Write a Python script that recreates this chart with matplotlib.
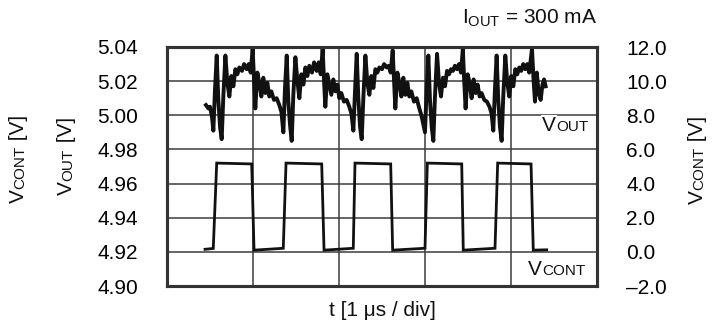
import matplotlib
matplotlib.use("Agg")
import matplotlib.pyplot as plt
from matplotlib.font_manager import FontProperties
from matplotlib.ticker import FuncFormatter, MultipleLocator
from matplotlib.transforms import IdentityTransform

plt.rcParams["font.family"] = ["Liberation Sans", "DejaVu Sans"]

# V_OUT trace (left axis, V) against time (us)
t_out = [
    0.453, 0.481, 0.500, 0.523,
    # period 1
    0.539, 0.558, 0.578, 0.597, 0.617, 0.636, 0.655, 0.679, 0.702, 0.725,
    0.748, 0.772, 0.795, 0.818, 0.841, 0.872, 0.896, 0.927, 0.950, 0.973,
    0.996, 1.012, 1.027, 1.051, 1.074, 1.097, 1.120, 1.144, 1.167, 1.190,
    1.213, 1.244, 1.275, 1.306, 1.330,
    # period 2
    1.353, 1.372, 1.392, 1.411, 1.431, 1.450, 1.469, 1.493, 1.516, 1.539,
    1.562, 1.586, 1.609, 1.632, 1.655, 1.686, 1.710, 1.741, 1.764, 1.787,
    1.810, 1.826, 1.841, 1.865, 1.888, 1.911, 1.934, 1.958, 1.981, 2.004,
    2.027, 2.058, 2.089, 2.120, 2.144,
    # period 3
    2.167, 2.186, 2.206, 2.225, 2.245, 2.264, 2.283, 2.307, 2.330, 2.353,
    2.376, 2.400, 2.423, 2.446, 2.469, 2.500, 2.524, 2.555, 2.578, 2.601,
    2.624, 2.640, 2.655, 2.679, 2.702, 2.725, 2.748, 2.772, 2.795, 2.818,
    2.841, 2.872, 2.903, 2.934, 2.958,
    # period 4
    3.000, 3.019, 3.039, 3.058, 3.078, 3.097, 3.116, 3.140, 3.163, 3.186,
    3.209, 3.233, 3.256, 3.279, 3.302, 3.325, 3.348, 3.372, 3.395, 3.418,
    3.440, 3.456, 3.472, 3.496, 3.519, 3.542, 3.565, 3.589, 3.612, 3.635,
    3.658, 3.689, 3.720, 3.750, 3.774,
    # period 5
    3.794, 3.813, 3.833, 3.852, 3.872, 3.891, 3.910, 3.934, 3.957, 3.980,
    4.003, 4.027, 4.050, 4.073, 4.096, 4.119, 4.142, 4.166, 4.189, 4.212,
    4.244, 4.262, 4.279, 4.300, 4.322, 4.345, 4.366, 4.384, 4.403,
]
v_out = [
    5.006, 5.004, 5.005, 4.999,
    4.991, 5.015, 5.035, 5.009, 4.993, 4.986, 5.011, 5.035, 5.019, 5.011,
    5.023, 5.017, 5.027, 5.024, 5.028, 5.026, 5.030, 5.027, 5.030, 5.025,
    5.039, 5.021, 5.004, 5.025, 5.019, 5.011, 5.022, 5.013, 5.019, 5.011,
    5.014, 5.009, 5.010, 5.006, 5.002,
    4.990, 5.016, 5.035, 5.008, 4.994, 4.985, 5.012, 5.034, 5.020, 5.010,
    5.024, 5.018, 5.028, 5.023, 5.029, 5.025, 5.031, 5.026, 5.031, 5.024,
    5.039, 5.020, 5.005, 5.024, 5.018, 5.012, 5.021, 5.014, 5.018, 5.010,
    5.013, 5.008, 5.009, 5.005, 5.001,
    4.991, 5.014, 5.036, 5.010, 4.993, 4.986, 5.010, 5.035, 5.019, 5.012,
    5.023, 5.016, 5.027, 5.025, 5.028, 5.027, 5.030, 5.028, 5.029, 5.025,
    5.038, 5.021, 5.004, 5.025, 5.019, 5.011, 5.022, 5.012, 5.019, 5.011,
    5.014, 5.008, 5.010, 5.004, 5.000,
    4.990, 5.015, 5.035, 5.009, 4.993, 4.985, 5.011, 5.036, 5.019, 5.011,
    5.022, 5.017, 5.026, 5.024, 5.027, 5.026, 5.029, 5.027, 5.030, 5.025,
    5.039, 5.020, 5.004, 5.024, 5.019, 5.010, 5.021, 5.013, 5.018, 5.011,
    5.013, 5.009, 5.008, 5.005, 5.001,
    4.991, 5.015, 5.035, 5.009, 4.993, 4.985, 5.011, 5.035, 5.019, 5.011,
    5.023, 5.017, 5.027, 5.024, 5.028, 5.026, 5.030, 5.027, 5.030, 5.025,
    5.039, 5.021, 5.008, 5.025, 5.013, 5.009, 5.018, 5.021, 5.017,
]

# V_CONT trace (right axis, V)
t_cont = [0.442, 0.538, 0.578, 0.985, 1.012, 1.352, 1.384, 1.799, 1.826,
          2.166, 2.186, 2.601, 2.624, 3.000, 3.027, 3.427, 3.445, 3.814,
          3.845, 4.233, 4.259, 4.415]
v_cont = [0.15, 0.20, 5.20, 5.15, 0.10, 0.21, 5.20, 5.15, 0.10,
          0.21, 5.20, 5.15, 0.10, 0.21, 5.20, 5.15, 0.10, 0.21,
          5.20, 5.15, 0.10, 0.12]

left_ticks = [4.90, 4.92, 4.94, 4.96, 4.98, 5.00, 5.02, 5.04]
right_ticks = [-2.0, 0.0, 2.0, 4.0, 6.0, 8.0, 10.0, 12.0]

W, H, DPI = 723, 324, 100
BIG, SMALL = 15, 11
INK = "#111111"
GRID = "#3c3c3c"

fig = plt.figure(figsize=(W / DPI, H / DPI), dpi=DPI)
ax = fig.add_axes([167 / W, 1 - 286 / H, 430 / W, 239 / H])
ax2 = ax.twinx()

ax.set_xlim(0, 5)
ax.set_ylim(4.90, 5.04)
ax.set_yticks(left_ticks)
ax.yaxis.set_major_formatter(FuncFormatter(lambda v, p: f"{v:.2f}"))
ax.xaxis.set_major_locator(MultipleLocator(1))
ax.set_xticklabels([])
ax.grid(True, color=GRID, linewidth=1.1)
ax.tick_params(length=0, labelsize=BIG, pad=21)

ax2.set_ylim(-2, 12)
ax2.set_yticks(right_ticks)
ax2.yaxis.set_major_formatter(
    FuncFormatter(lambda v, p: f"{v:.1f}".replace("-", "\u2013")))
ax2.tick_params(length=0, labelsize=BIG, pad=21)

for a in (ax, ax2):
    for s in a.spines.values():
        s.set_linewidth(2.2)
        s.set_color("#333333")

ax.plot(t_out, v_out, color=INK, linewidth=2.8, solid_joinstyle="round")
ax2.plot(t_cont, v_cont, color=INK, linewidth=2.0, solid_joinstyle="miter")

renderer = fig.canvas.get_renderer()


def width_px(s, size):
    prop = FontProperties(family=["Liberation Sans"], size=size)
    w, _, _ = renderer.get_text_width_height_descent(s, prop, ismath=False)
    return w


def split_label(x, y, parts, rotation=0, align="left", bg=False):
    """Draw text made of pieces of different size on one baseline (pixels)."""
    total = sum(width_px(s, sz) for s, sz in parts)
    off = -total / 2 if align == "center" else 0.0
    for s, sz in parts:
        px, py = (x + off, y) if rotation == 0 else (x, y + off)
        kw = {}
        if bg:
            kw["bbox"] = dict(facecolor="white", edgecolor="none", pad=1.0)
        fig.text(px, py, s, transform=IdentityTransform(), fontsize=sz,
                 rotation=rotation, rotation_mode="anchor", ha="left",
                 va="baseline", color=INK, zorder=5, **kw)
        off += width_px(s, sz)


# trace labels inside the plot
split_label(542, H - 131, [("V", BIG), ("OUT", SMALL)], bg=True)
split_label(528, H - 275, [("V", BIG), ("CONT", SMALL)])

# axis titles
split_label(72, H - 156, [("V", BIG), ("OUT", SMALL), (" [V]", BIG)],
            rotation=90, align="center")
split_label(24, H - 159, [("V", BIG), ("CONT", SMALL), (" [V]", BIG)],
            rotation=90, align="center")
split_label(703, H - 160, [("V", BIG), ("CONT", SMALL), (" [V]", BIG)],
            rotation=90, align="center")

fig.text(382 / W, 1 - 311 / H, "t [1 \u03bcs / div]", ha="center",
         va="center", fontsize=BIG, color=INK)
fig.text(597 / W, 1 - 18 / H, r"$\mathregular{I_{OUT}}$ = 300 mA",
         ha="right", va="center", fontsize=BIG, color=INK)

fig.savefig("out.png", dpi=DPI)
